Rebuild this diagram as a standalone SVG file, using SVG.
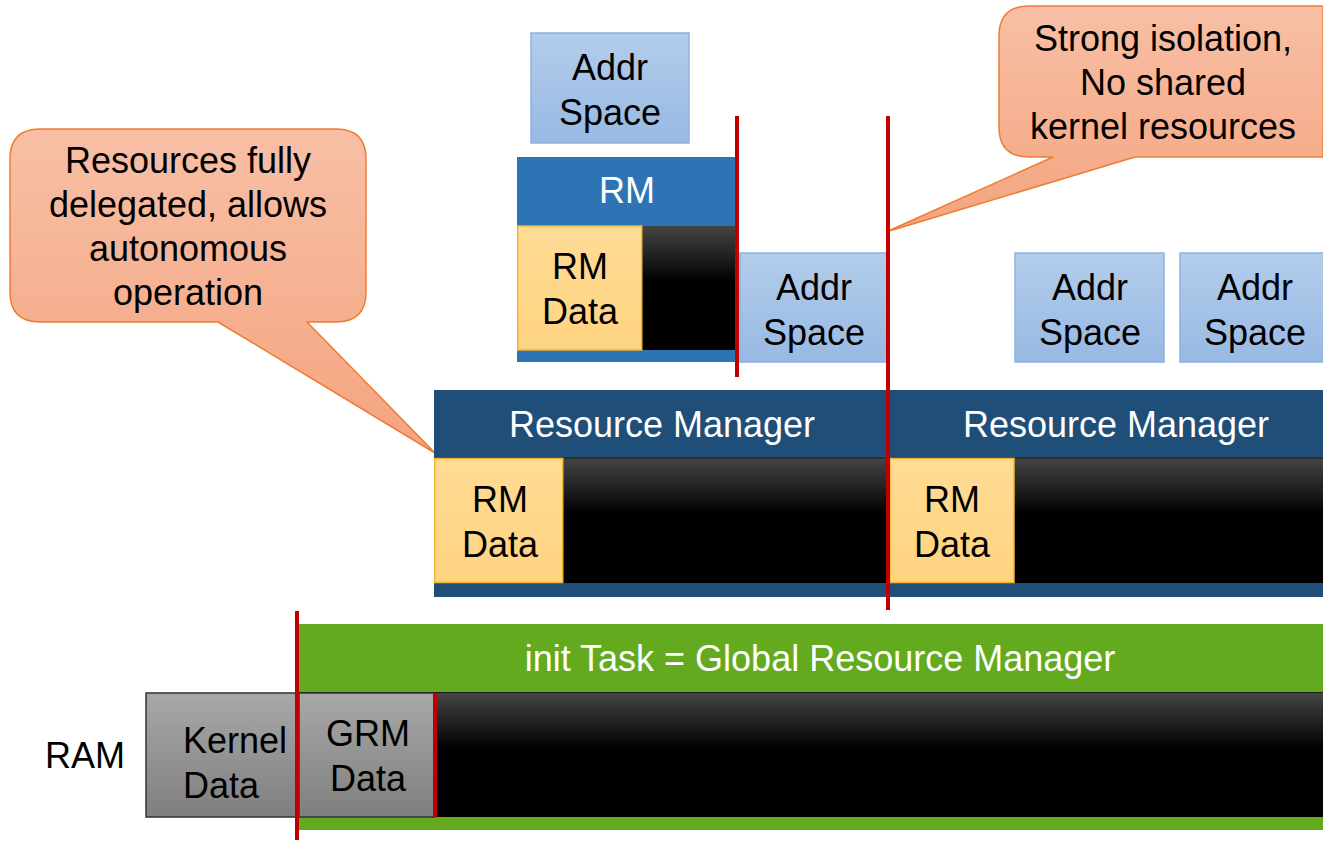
<svg xmlns="http://www.w3.org/2000/svg" width="1323" height="841" viewBox="0 0 1323 841">
<defs>
<linearGradient id="gBlack" x1="0" y1="0" x2="0" y2="1"><stop offset="0" stop-color="#454545"/><stop offset="0.45" stop-color="#000"/><stop offset="1" stop-color="#000"/></linearGradient>
<linearGradient id="gAddr" x1="0" y1="0" x2="0" y2="1"><stop offset="0" stop-color="#b3cdeb"/><stop offset="1" stop-color="#98b9e3"/></linearGradient>
<linearGradient id="gGray" x1="0" y1="0" x2="0" y2="1"><stop offset="0" stop-color="#a8a8a8"/><stop offset="1" stop-color="#7f7f7f"/></linearGradient>
<linearGradient id="gCall" x1="0" y1="0" x2="0" y2="1"><stop offset="0" stop-color="#f8bfa6"/><stop offset="1" stop-color="#f4a47f"/></linearGradient>
<linearGradient id="gYel" x1="0" y1="0" x2="0" y2="1"><stop offset="0" stop-color="#ffdb95"/><stop offset="1" stop-color="#ffd480"/></linearGradient>
</defs>
<style>
text{font-family:"Liberation Sans",Arial,sans-serif;font-size:36px;text-anchor:middle;fill:#000}
.w{fill:#fff}
.addr{fill:url(#gAddr);stroke:#8db1df;stroke-width:1.5}
.blk{fill:url(#gBlack)}
.yel{fill:url(#gYel);stroke:#f2b530;stroke-width:1.5}
.gray{fill:url(#gGray);stroke:#333;stroke-width:1.5}
.call{fill:url(#gCall);stroke:#ed7d31;stroke-width:1.5}
.red{stroke:#c00000;stroke-width:4;fill:none}
</style>

<g id="callout-left">
<path class="call" d="M40,129 H336 Q366,129 366,159 V292 Q366,322 336,322 H307 L435,453 L218,322 H40 Q10,322 10,292 V159 Q10,129 40,129 Z"/>
<text x="188" y="173">Resources fully</text>
<text x="188" y="217">delegated, allows</text>
<text x="188" y="261">autonomous</text>
<text x="188" y="305">operation</text>
</g>

<g id="callout-right">
<path class="call" d="M1029,6 H1323 V157 H1135 L886,232 L1053,157 H1029 Q999,157 999,127 V36 Q999,6 1029,6 Z"/>
<text x="1163" y="51">Strong isolation,</text>
<text x="1163" y="95">No shared</text>
<text x="1163" y="139">kernel resources</text>
</g>

<g id="addr-top">
<rect class="addr" x="531" y="33" width="158" height="110"/>
<text x="610" y="80">Addr</text>
<text x="610" y="125">Space</text>
</g>

<g id="rm-small">
<rect x="517" y="157" width="220" height="205" fill="#2e74b5"/>
<rect class="blk" x="642" y="226" width="95" height="124"/>
<rect class="yel" x="517.75" y="226" width="124" height="124"/>
<text class="w" x="627" y="203">RM</text>
<text x="580" y="279">RM</text>
<text x="580" y="324">Data</text>
</g>

<g id="addr-2">
<rect class="addr" x="740" y="253" width="147" height="109"/>
<text x="814" y="300">Addr</text>
<text x="814" y="345">Space</text>
</g>

<g id="addr-3">
<rect class="addr" x="1015" y="253" width="149" height="109"/>
<text x="1090" y="300">Addr</text>
<text x="1090" y="345">Space</text>
</g>

<g id="addr-4">
<rect class="addr" x="1180" y="253" width="145" height="109"/>
<text x="1255" y="300">Addr</text>
<text x="1255" y="345">Space</text>
</g>

<g id="rm-bar">
<rect x="434" y="390" width="889" height="207" fill="#1f4e79"/>
<rect class="blk" x="563" y="458" width="327" height="125"/>
<rect class="blk" x="1014" y="458" width="309" height="125"/>
<line x1="434" y1="458" x2="1323" y2="458" stroke="#1a1a1a" stroke-width="1"/>
<rect class="yel" x="434.75" y="458.5" width="128" height="124"/>
<rect class="yel" x="890" y="458.5" width="124" height="124"/>
<text class="w" x="662" y="437">Resource Manager</text>
<text class="w" x="1116" y="437">Resource Manager</text>
<text x="500" y="512">RM</text>
<text x="500" y="557">Data</text>
<text x="952" y="512">RM</text>
<text x="952" y="557">Data</text>
</g>

<g id="grm-bar">
<rect x="299" y="624" width="1024" height="206" fill="#63aa1f"/>
<rect class="blk" x="435" y="693" width="888" height="124"/>
<line x1="299" y1="692.5" x2="1323" y2="692.5" stroke="#1a1a1a" stroke-width="1"/>
<rect class="gray" x="299" y="693" width="136" height="124"/>
<text class="w" x="820" y="671">init Task = Global Resource Manager</text>
<text x="368" y="746">GRM</text>
<text x="368" y="791">Data</text>
</g>

<g id="kernel-data">
<rect class="gray" x="146" y="693" width="152" height="124"/>
<text x="183" y="753" style="text-anchor:start">Kernel</text>
<text x="183" y="798" style="text-anchor:start">Data</text>
</g>

<g id="ram-label">
<text x="85" y="768">RAM</text>
</g>

<g id="connectors">
<line class="red" x1="737" y1="116" x2="737" y2="377"/>
<line class="red" x1="888" y1="116" x2="888" y2="610"/>
<line class="red" x1="297" y1="611" x2="297" y2="840"/>
<line class="red" x1="435" y1="693" x2="435" y2="817"/>
</g>
</svg>
